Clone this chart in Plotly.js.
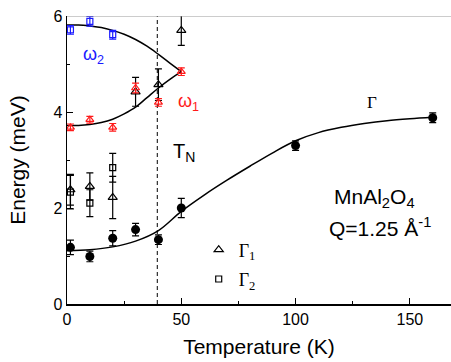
<!DOCTYPE html>
<html>
<head>
<meta charset="utf-8">
<script src="https://cdn.plot.ly/plotly-3.0.1.min.js"></script>
<style>
  html, body { margin: 0; padding: 0; background: #fff; }
  #chart { width: 451px; height: 362px; }
</style>
</head>
<body>
<div id="chart"></div>
<script>
// Mode energies of MnAl2O4 versus temperature
const gammaT   = [1.5, 10, 20, 30, 40, 50, 100, 160];
const gammaE   = [1.18, 0.99, 1.37, 1.55, 1.34, 2.0, 3.30, 3.88];
const gammaErr = [0.15, 0.11, 0.16, 0.13, 0.10, 0.20, 0.10, 0.10];

const g1T   = [1.5, 10, 20, 30, 40, 50];
const g1E   = [2.38, 2.45, 2.22, 4.42, 4.57, 5.70];
const g1Err = [0.32, 0.28, 0.44, 0.30, 0.33, 0.31];

const g2T   = [1.5, 10, 20];
const g2E   = [2.33, 2.10, 2.84];
const g2Err = [0.35, 0.28, 0.30];

const w1T   = [1.5, 10, 20, 30, 40, 50];
const w1E   = [3.68, 3.84, 3.68, 4.50, 4.20, 4.84];
const w1Err = [0.07, 0.07, 0.08, 0.10, 0.08, 0.08];

const w2T   = [1.5, 10, 20];
const w2E   = [5.71, 5.89, 5.61];
const w2Err = [0.09, 0.10, 0.09];

// guide-to-the-eye curves
const fitWT  = [0, 5, 10, 15, 20, 25, 30, 35, 40, 45, 50];
const fitW2E = [5.81, 5.81, 5.79, 5.76, 5.70, 5.62, 5.51, 5.37, 5.20, 5.02, 4.84];
const fitW1E = [3.72, 3.72, 3.74, 3.78, 3.85, 3.96, 4.10, 4.30, 4.50, 4.68, 4.84];

const fitGT = [0, 10, 20, 30, 40, 50, 60, 70, 80, 90, 100, 110, 120, 130, 140, 150, 160];
const fitGE = [1.11, 1.13, 1.19, 1.31, 1.53, 1.93, 2.27, 2.58, 2.87, 3.15, 3.40, 3.57, 3.68, 3.76, 3.82, 3.86, 3.89];

const tN = 39.5;
const xTicks = [0, 50, 100, 150];
const yTicks = [0, 2, 4, 6];

const BLUE = '#1a1aff';
const RED = '#ff1a1a';

function errs(arr, color) {
  return { type: 'data', array: arr, visible: true, color: color, thickness: 1.2, width: 3.5 };
}

const traces = [
  { x: fitWT, y: fitW2E, mode: 'lines', line: { color: '#000', width: 1.5, shape: 'spline' }, showlegend: false, hoverinfo: 'skip' },
  { x: fitWT, y: fitW1E, mode: 'lines', line: { color: '#000', width: 1.5, shape: 'spline' }, showlegend: false, hoverinfo: 'skip' },
  { x: fitGT, y: fitGE, mode: 'lines', line: { color: '#000', width: 1.5, shape: 'spline' }, showlegend: false, hoverinfo: 'skip' },
  { x: [tN, tN], y: [0, 6], mode: 'lines', line: { color: '#000', width: 1, dash: '4px,3px' }, showlegend: false, hoverinfo: 'skip' },
  { x: g1T, y: g1E, mode: 'markers', name: 'Γ<sub>1</sub>', legendgroup: 'a',
    marker: { symbol: 'triangle-up-open', size: 8, color: '#000', line: { width: 1.2, color: '#000' } },
    error_y: errs(g1Err, '#000') },
  { x: g2T, y: g2E, mode: 'markers', name: 'Γ<sub>2</sub>', legendgroup: 'b',
    marker: { symbol: 'square-open', size: 6, color: '#000', line: { width: 1.2, color: '#000' } },
    error_y: errs(g2Err, '#000') },
  { x: gammaT, y: gammaE, mode: 'markers', showlegend: false,
    marker: { symbol: 'circle', size: 9, color: '#000' },
    error_y: errs(gammaErr, '#000') },
  { x: w1T, y: w1E, mode: 'markers', showlegend: false,
    marker: { symbol: 'triangle-up-open', size: 7, color: RED, line: { width: 1.2, color: RED } },
    error_y: errs(w1Err, RED) },
  { x: w2T, y: w2E, mode: 'markers', showlegend: false,
    marker: { symbol: 'square-open', size: 6, color: BLUE, line: { width: 1.2, color: BLUE } },
    error_y: errs(w2Err, BLUE) }
];

const SANS = 'Liberation Sans, Arial, sans-serif';
const SERIF = 'Liberation Serif, Times New Roman, serif';

const layout = {
  width: 451, height: 362,
  margin: { l: 67, r: 0, t: 16, b: 58 },
  paper_bgcolor: '#fff', plot_bgcolor: '#fff',
  font: { family: SANS, color: '#000' },
  showlegend: true,
  legend: {
    x: 0.343, y: 0.252, xanchor: 'left', yanchor: 'top',
    bgcolor: 'rgba(0,0,0,0)', font: { family: SERIF, size: 18, color: '#000' },
    tracegroupgap: 3, itemwidth: 30
  },
  xaxis: {
    range: [0, 168], showgrid: false, zeroline: false,
    showline: true, linecolor: '#000', linewidth: 1.5,
    tickmode: 'array', tickvals: xTicks, ticktext: xTicks.map(String),
    ticks: 'inside', ticklen: 6, tickwidth: 1, tickcolor: '#000',
    minor: { ticks: 'inside', ticklen: 3, dtick: 25, tick0: 0, tickcolor: '#000', tickwidth: 1 },
    tickfont: { size: 16, family: SANS },
    title: { text: 'Temperature (K)', font: { size: 21, family: SANS }, standoff: 12 }
  },
  yaxis: {
    range: [0, 6], showgrid: false, zeroline: false,
    showline: true, linecolor: '#000', linewidth: 1.5,
    tickmode: 'array', tickvals: yTicks, ticktext: yTicks.map(String),
    ticks: 'inside', ticklen: 6, tickwidth: 1, tickcolor: '#000',
    minor: { ticks: 'inside', ticklen: 3, dtick: 1, tick0: 0, tickcolor: '#000', tickwidth: 1 },
    tickfont: { size: 16, family: SANS },
    title: { text: 'Energy (meV)', font: { size: 21, family: SANS }, standoff: 22 }
  },
  shapes: [
    { type: 'line', xref: 'paper', yref: 'y', x0: 0, x1: 1, y0: 6, y1: 6, line: { color: '#999', width: 1 } }
  ],
  annotations: [
    { x: 6.2, y: 5.18, xref: 'x', yref: 'y', xanchor: 'left', yanchor: 'middle', showarrow: false,
      text: 'ω<sub>2</sub>', font: { size: 18, color: BLUE, family: SANS } },
    { x: 47.5, y: 4.2, xref: 'x', yref: 'y', xanchor: 'left', yanchor: 'middle', showarrow: false,
      text: 'ω<sub>1</sub>', font: { size: 18, color: RED, family: SANS } },
    { x: 45.6, y: 3.15, xref: 'x', yref: 'y', xanchor: 'left', yanchor: 'middle', showarrow: false,
      text: 'T<sub>N</sub>', font: { size: 20, color: '#000', family: SANS } },
    { x: 130.5, y: 4.2, xref: 'x', yref: 'y', xanchor: 'left', yanchor: 'middle', showarrow: false,
      text: 'Γ', font: { size: 17, color: '#000', family: SERIF } },
    { x: 115.8, y: 2.2, xref: 'x', yref: 'y', xanchor: 'left', yanchor: 'middle', showarrow: false,
      text: 'MnAl<sub>2</sub>O<sub>4</sub>', font: { size: 21, color: '#000', family: SANS } },
    { x: 113.8, y: 1.6, xref: 'x', yref: 'y', xanchor: 'left', yanchor: 'middle', showarrow: false,
      text: 'Q=1.25 Å<sup>-1</sup>', font: { size: 21, color: '#000', family: SANS } }
  ]
};

Plotly.newPlot('chart', traces, layout, { displayModeBar: false, staticPlot: true });
</script>
</body>
</html>
